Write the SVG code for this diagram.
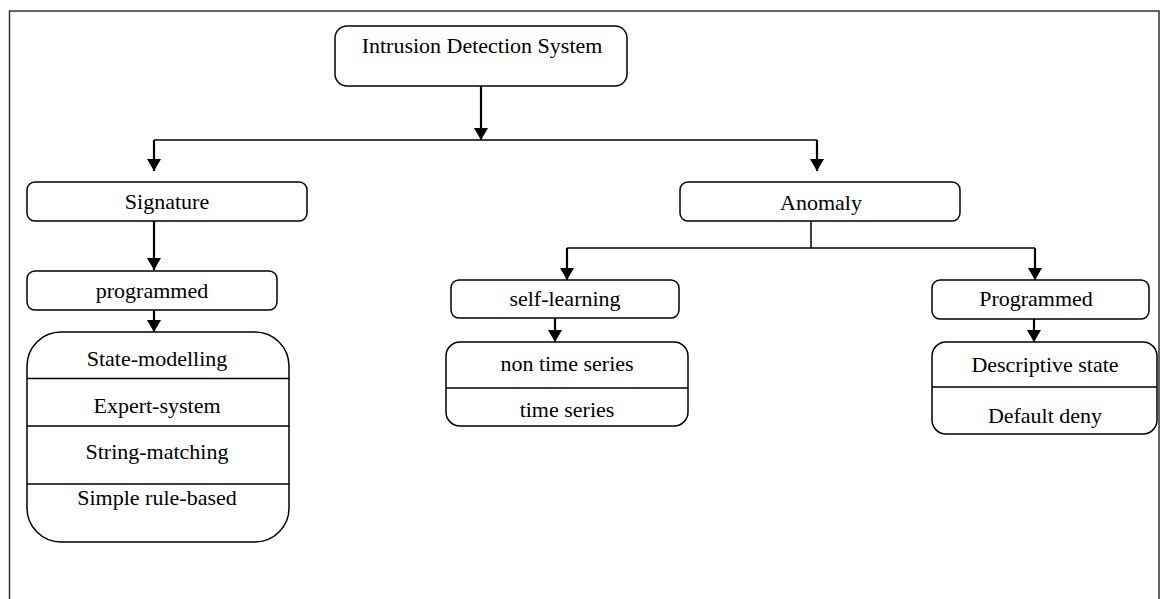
<svg xmlns="http://www.w3.org/2000/svg" width="1160" height="599" viewBox="0 0 1160 599">
  <style>
    .box { fill: #ffffff; stroke: #000000; stroke-width: 1.5; }
    .sep { stroke: #000000; stroke-width: 1.5; }
    .lbl { font-family: 'Liberation Serif', 'Times New Roman', Tinos, 'DejaVu Serif', serif; font-size: 22px; fill: #000000; text-anchor: middle; }
    .arrow { fill: none; stroke: #000000; stroke-width: 2.2; marker-end: url(#head); }
    .line { fill: none; stroke: #000000; stroke-width: 1.5; }
  </style>
  <defs>
    <marker id="head" markerUnits="userSpaceOnUse" markerWidth="14" markerHeight="14" viewBox="0 0 12 14" refX="12" refY="7" orient="auto">
      <path d="M0,0 L12,7 L0,14 Z" fill="#000000"/>
    </marker>
  </defs>

  <rect width="1160" height="599" fill="#ffffff"/>
  <!-- outer frame -->
  <path d="M9.5,605 L9.5,11 L1159,11 L1159,605" fill="none" stroke="#333333" stroke-width="1.5"/>

  <!-- connectors -->
  <g id="connectors">
    <path class="arrow" d="M481,86 L481,140"/>
    <path class="line" d="M154,140 L817,140"/>
    <path class="arrow" d="M154,140 L154,171"/>
    <path class="arrow" d="M817,140 L817,171"/>
    <path class="arrow" d="M154,221 L154,270"/>
    <path class="arrow" d="M154,310 L154,332"/>
    <path class="line" d="M811,221 L811,248"/>
    <path class="line" d="M567,248 L1035,248"/>
    <path class="arrow" d="M567,248 L567,280"/>
    <path class="arrow" d="M1035,248 L1035,280"/>
    <path class="arrow" d="M555,318 L555,342"/>
    <path class="arrow" d="M1034,319 L1034,342"/>
  </g>

  <g id="ids">
    <rect class="box" x="335" y="26" width="292" height="60" rx="12"/>
    <text class="lbl" x="482" y="53" font-family="Liberation Serif, serif">Intrusion Detection System</text>
  </g>

  <g id="signature">
    <rect class="box" x="27" y="182" width="280" height="39" rx="8"/>
    <text class="lbl" x="167" y="209">Signature</text>
  </g>

  <g id="sig-programmed">
    <rect class="box" x="27" y="271" width="250" height="39" rx="8"/>
    <text class="lbl" x="152" y="298">programmed</text>
  </g>

  <g id="sig-methods">
    <rect class="box" x="27" y="332" width="262" height="210" rx="34"/>
    <line class="sep" x1="27" y1="378.5" x2="289" y2="378.5"/>
    <line class="sep" x1="27" y1="426" x2="289" y2="426"/>
    <line class="sep" x1="27" y1="484" x2="289" y2="484"/>
    <text class="lbl" x="157" y="366">State-modelling</text>
    <text class="lbl" x="157" y="413">Expert-system</text>
    <text class="lbl" x="157" y="459">String-matching</text>
    <text class="lbl" x="157" y="505">Simple rule-based</text>
  </g>

  <g id="anomaly">
    <rect class="box" x="680" y="182" width="280" height="39" rx="8"/>
    <text class="lbl" x="821" y="210">Anomaly</text>
  </g>

  <g id="self-learning">
    <rect class="box" x="451" y="280" width="228" height="38" rx="8"/>
    <text class="lbl" x="565" y="306">self-learning</text>
  </g>

  <g id="self-learning-types">
    <rect class="box" x="446" y="342" width="242" height="84" rx="14"/>
    <line class="sep" x1="446" y1="388" x2="688" y2="388"/>
    <text class="lbl" x="567" y="371">non time series</text>
    <text class="lbl" x="567" y="417">time series</text>
  </g>

  <g id="anomaly-programmed">
    <rect class="box" x="932" y="280" width="217" height="39" rx="8"/>
    <text class="lbl" x="1036" y="306">Programmed</text>
  </g>

  <g id="anomaly-programmed-types">
    <rect class="box" x="932" y="342" width="225" height="92" rx="14"/>
    <line class="sep" x1="932" y1="387" x2="1157" y2="387"/>
    <text class="lbl" x="1045" y="372">Descriptive state</text>
    <text class="lbl" x="1045" y="423">Default deny</text>
  </g>
</svg>
